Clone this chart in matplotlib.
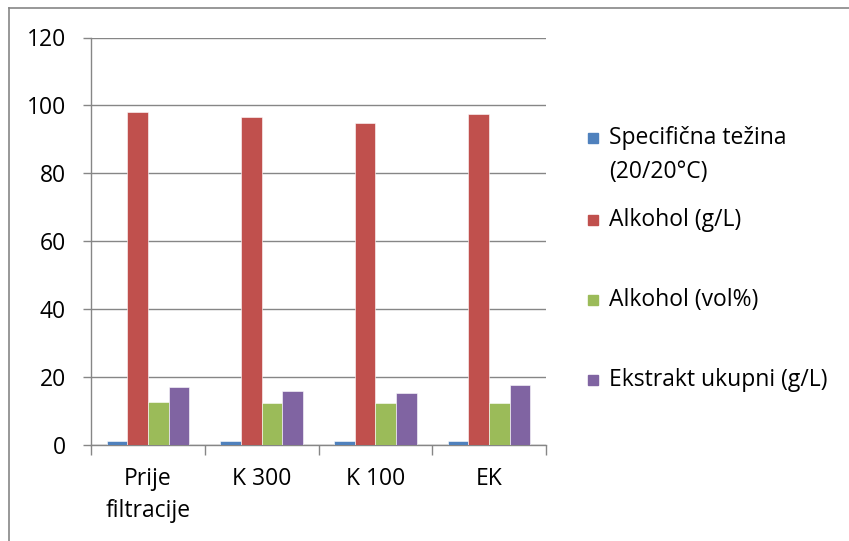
import matplotlib.pyplot as plt
import matplotlib.patches as mpatches
from matplotlib.lines import Line2D
import numpy as np

plt.rcParams['font.family'] = ['Open Sans', 'DejaVu Sans']

# Data
categories = ['Prije\nfiltracije', 'K 300', 'K 100', 'EK']
series_names = ['Specifična težina\n(20/20°C)', 'Alkohol (g/L)', 'Alkohol (vol%)', 'Ekstrakt ukupni (g/L)']
spec_tezina = [1.0, 1.0, 1.0, 1.0]
alkohol_gl = [98.0, 96.7, 94.7, 97.4]
alkohol_vol = [12.4, 12.3, 12.3, 12.3]
ekstrakt = [17.0, 15.8, 15.3, 17.4]
yticks = [0, 20, 40, 60, 80, 100, 120]

colors = ['#4F81BD', '#C0504D', '#9BBB59', '#8064A2']
values = [spec_tezina, alkohol_gl, alkohol_vol, ekstrakt]

W, H = 849, 541
fs = 16.5
fig = plt.figure(figsize=(W / 100, H / 100), dpi=100)
left, right, top, bottom = 91, 546, 37.5, 444.5
ax = fig.add_axes([left / W, 1 - bottom / H, (right - left) / W, (bottom - top) / H])

x = np.arange(len(categories))
bw = 1 / 5.5
for i, (vals, col) in enumerate(zip(values, colors)):
    ax.bar(x + (i - 1.5) * bw, vals, width=bw, color=col, edgecolor='white',
           linewidth=0.4, zorder=3)

grid_col = '#868686'
ax.set_xlim(-0.5, len(categories) - 0.5)
ax.set_ylim(0, 120)
ax.set_yticks(yticks)
ax.set_yticklabels([str(t) for t in yticks], fontsize=fs)
ax.yaxis.grid(True, color=grid_col, linewidth=1, zorder=0)
ax.set_axisbelow(True)

ax.set_xticks(x)
ax.set_xticklabels(categories, fontsize=fs, va='top', linespacing=1.45)
ax.tick_params(axis='x', which='major', length=0, pad=16)
ax.set_xticks(np.arange(-0.5, len(categories)), minor=True)
ax.tick_params(axis='x', which='minor', length=7, color=grid_col, width=1)
ax.tick_params(axis='y', length=6, color=grid_col, width=1, pad=12)

for s in ['top', 'right']:
    ax.spines[s].set_visible(False)
for s in ['left', 'bottom']:
    ax.spines[s].set_color(grid_col)
    ax.spines[s].set_linewidth(1)

# legend drawn by hand (Excel-style spacing)
leg_y = [138, 220, 300, 380]
for name, col, yc in zip(series_names, colors, leg_y):
    fig.add_artist(mpatches.Rectangle(((588) / W, 1 - (yc + 5) / H), 10 / W, 10 / H,
                                      transform=fig.transFigure, color=col))
    for j, line in enumerate(name.split('\n')):
        fig.text(609 / W, 1 - (yc + j * 34) / H, line, fontsize=fs, va='center', ha='left')

# outer chart border
fig.add_artist(Line2D([9 / W, 9 / W], [0, 1 - 7.5 / H], transform=fig.transFigure,
                      color='#868686', linewidth=1.2))
fig.add_artist(Line2D([9 / W, 1], [1 - 7.5 / H, 1 - 7.5 / H], transform=fig.transFigure,
                      color='#868686', linewidth=1.2))

fig.savefig('out.png', dpi=100)
